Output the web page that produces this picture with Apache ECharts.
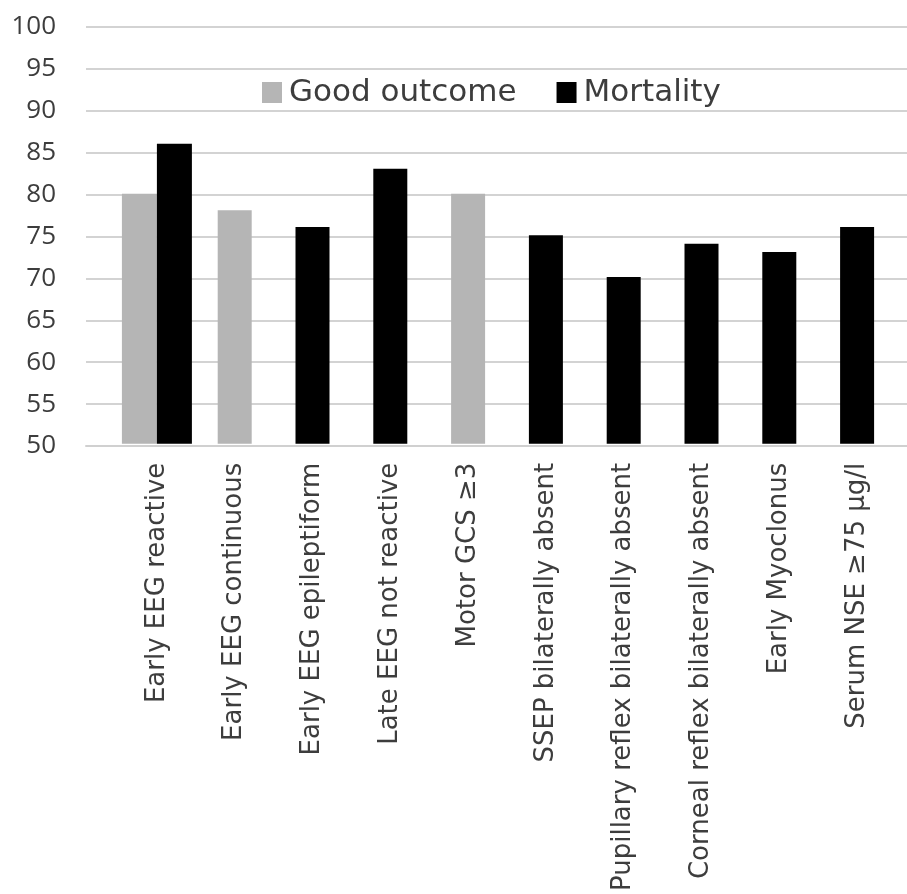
<!DOCTYPE html>
<html>
<head>
<meta charset="utf-8">
<script src="https://cdn.jsdelivr.net/npm/echarts@6/dist/echarts.min.js"></script>
<style>
  html, body { margin: 0; padding: 0; background: #fff; }
  #chart { width: 907px; height: 894px; }
</style>
</head>
<body>
<div id="chart"></div>
<script>
// Prognostic predictors (%) for good outcome and mortality
const categories = [
  'Early EEG reactive',
  'Early EEG continuous',
  'Early EEG epileptiform',
  'Late EEG not reactive',
  'Motor GCS \u22653',
  'SSEP bilaterally absent',
  'Pupillary reflex bilaterally absent',
  'Corneal reflex bilaterally absent',
  'Early Myoclonus',
  'Serum NSE \u226575 \u00b5g/l'
];
const goodOutcome = [80, 78, null, null, 80, null, null, null, null, null];
const mortality   = [86, null, 76, 83, null, 75, 70, 74, 73, 76];
const yTicks = [50, 55, 60, 65, 70, 75, 80, 85, 90, 95, 100];

const GRAY = '#b5b5b5';
const BLACK = '#000000';
const TEXT = '#3d3d3d';
const FONT = 'Open Sans';
const WIDE_FONT = 'DejaVu Sans';

// Categories holding both values get side-by-side bars; categories with a
// single value get one bar centred on the tick.
const both = categories.map((_, i) => goodOutcome[i] != null && mortality[i] != null);
const goodPair = goodOutcome.map((v, i) => both[i] ? v : null);
const mortPair = mortality.map((v, i) => both[i] ? v : null);
const goodSingle = goodOutcome.map((v, i) => both[i] ? null : v);
const mortSingle = mortality.map((v, i) => both[i] ? null : v);

const yMin = yTicks[0], yMax = yTicks[yTicks.length - 1];
const yStep = yTicks[1] - yTicks[0];

const chart = echarts.init(document.getElementById('chart'), null, { renderer: 'canvas' });

chart.setOption({
  animation: false,
  backgroundColor: '#ffffff',
  textStyle: { fontFamily: FONT, color: TEXT },
  legend: {
    left: 257, top: 72,
    itemWidth: 20, itemHeight: 21, itemGap: 40,
    icon: 'rect',
    textStyle: { fontFamily: WIDE_FONT, fontSize: 31, color: TEXT, padding: [0, 0, 0, 2] },
    data: ['Good outcome', 'Mortality']
  },
  grid: [
    // frame with value axis, gridlines and baseline
    { left: 86, right: 0, top: 27, bottom: 448, containLabel: false },
    // bar area
    { left: 118, right: 11, top: 27, bottom: 448, containLabel: false }
  ],
  xAxis: [
    {
      type: 'value', gridIndex: 0, min: 0, max: 1,
      axisLine: { show: true, lineStyle: { color: '#d0d0d0', width: 2 } },
      axisTick: { show: false }, axisLabel: { show: false }, splitLine: { show: false }
    },
    {
      type: 'category', gridIndex: 1, data: categories,
      axisLine: { show: false }, axisTick: { show: false },
      axisLabel: {
        rotate: 90, interval: 0, margin: 19,
        fontFamily: WIDE_FONT, fontSize: 26, color: TEXT
      }
    },
    {
      type: 'category', gridIndex: 1, data: categories,
      axisLine: { show: false }, axisTick: { show: false }, axisLabel: { show: false }
    }
  ],
  yAxis: [
    {
      type: 'value', gridIndex: 0, min: yMin, max: yMax, interval: yStep,
      axisLine: { show: false }, axisTick: { show: false },
      axisLabel: { margin: 30, fontFamily: FONT, fontSize: 26, color: TEXT },
      splitLine: { show: true, lineStyle: { color: '#d3d3d3', width: 2 } }
    },
    {
      type: 'value', gridIndex: 1, min: yMin, max: yMax, interval: yStep,
      show: false, splitLine: { show: false }
    }
  ],
  series: [
    {
      name: 'Good outcome', type: 'bar', xAxisIndex: 1, yAxisIndex: 1,
      data: goodPair, barWidth: 35, barGap: '0%',
      itemStyle: { color: GRAY }
    },
    {
      name: 'Mortality', type: 'bar', xAxisIndex: 1, yAxisIndex: 1,
      data: mortPair, barWidth: 35, barGap: '0%',
      itemStyle: { color: BLACK }
    },
    {
      name: 'Good outcome', type: 'bar', xAxisIndex: 2, yAxisIndex: 1,
      data: goodSingle, barWidth: 34, barGap: '-100%',
      itemStyle: { color: GRAY }
    },
    {
      name: 'Mortality', type: 'bar', xAxisIndex: 2, yAxisIndex: 1,
      data: mortSingle, barWidth: 34, barGap: '-100%',
      itemStyle: { color: BLACK }
    }
  ]
});
</script>
</body>
</html>
